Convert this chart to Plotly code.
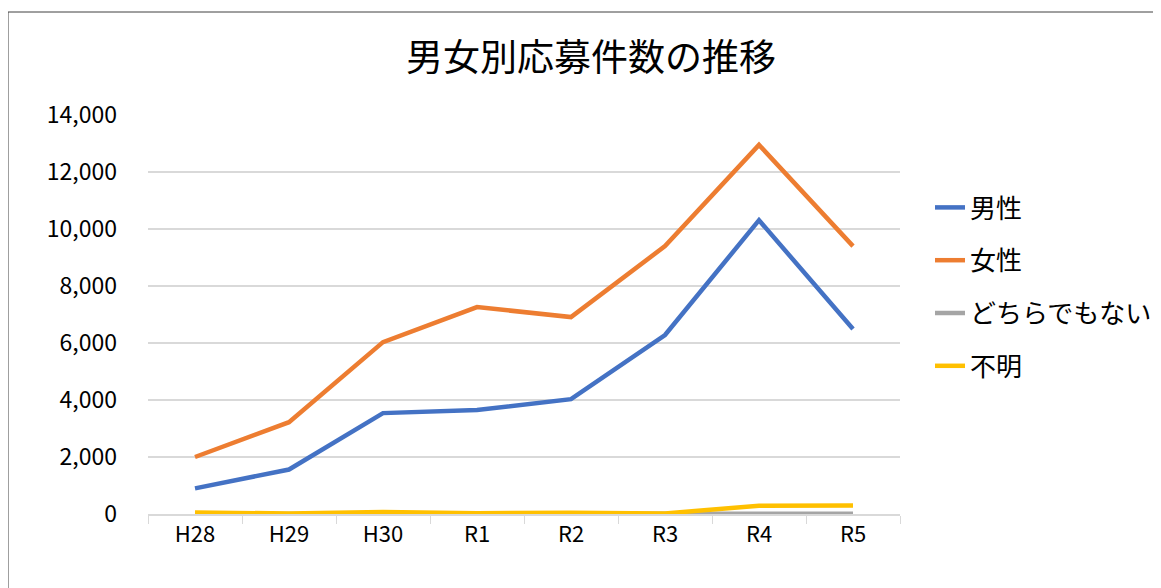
import plotly.graph_objects as go

categories = ["H28", "H29", "H30", "R1", "R2", "R3", "R4", "R5"]
male = [900, 1560, 3540, 3650, 4030, 6280, 10310, 6490]
female = [2000, 3220, 6030, 7260, 6910, 9400, 12950, 9400]
neither = [0, 0, 0, 0, 0, 0, 10, 10]
unknown = [50, 20, 70, 30, 40, 20, 290, 300]

series_names = ["男性", "女性", "どちらでもない", "不明"]
series_values = [male, female, neither, unknown]
colors = ["#4472C4", "#ED7D31", "#A5A5A5", "#FFC000"]

FONT = "Noto Sans CJK JP"

fig = go.Figure()
for i, (name, vals, col) in enumerate(zip(series_names, series_values, colors)):
    fig.add_trace(go.Scatter(
        x=categories, y=vals, name=name, mode="lines",
        line=dict(color=col, width=4.5),
        legendgroup=f"g{i}",
    ))

# page body has an 8px margin, so figure coords = screen coords - 8
OFF = 8
W, H = 1161, 588
L = 148 - OFF
T = 115 - OFF
R = W - (900 - OFF)
B = H - (514 - OFF)
pw = W - L - R
ph = H - T - B

def px(xs):
    return (xs - OFF - L) / pw

def py(ys):
    return (H - B - (ys - OFF)) / ph

fig.update_layout(
    width=W, height=H,
    margin=dict(l=L, r=R, t=T, b=B),
    paper_bgcolor="white", plot_bgcolor="white",
    font=dict(family=FONT, color="#000000"),
    title=dict(text="男女別応募件数の推移", x=(591 - OFF) / W, xanchor="center",
               y=1 - (58 - OFF) / H, yanchor="middle",
               font=dict(size=37, family=FONT, color="#000000")),
    showlegend=True,
    legend=dict(x=px(930), y=py(184), xanchor="left", yanchor="top",
                font=dict(size=26, family=FONT), tracegroupgap=16,
                bgcolor="rgba(0,0,0,0)"),
    xaxis=dict(type="category", showgrid=False, showline=True, linecolor="#d9d9d9",
               linewidth=1.5, ticks="outside", tickson="boundaries", ticklen=8,
               tickcolor="#d9d9d9", tickfont=dict(size=22, family=FONT),
               range=[-0.5, 7.5]),
    yaxis=dict(range=[0, 14000], dtick=2000, tickformat=",", showgrid=True,
               gridcolor="#d9d9d9", gridwidth=1.5, zeroline=False, showline=False,
               ticks="", tickfont=dict(size=23, family=FONT), ticklabelstandoff=30),
    shapes=[dict(type="rect", xref="paper", yref="paper",
                 x0=px(8), x1=px(1175),
                 y0=py(600), y1=py(12),
                 line=dict(color="#404040", width=1), fillcolor="rgba(0,0,0,0)",
                 layer="below")],
)

fig.write_html("out.html")
